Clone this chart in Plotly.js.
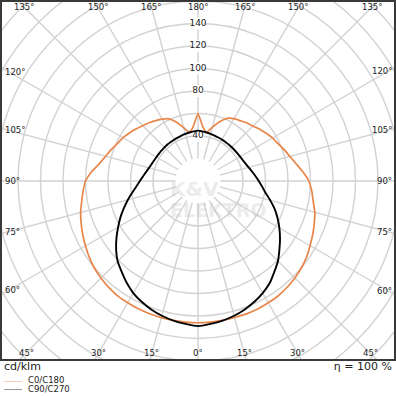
<!DOCTYPE html>
<html>
<head>
<meta charset="utf-8">
<script src="https://cdn.plot.ly/plotly-3.0.1.min.js"></script>
<style>
  html, body { margin:0; padding:0; background:#fff; width:396px; height:396px; overflow:hidden; font-family:"DejaVu Sans", sans-serif; }
  #frame { position:absolute; left:0; top:0; width:396px; height:361px; overflow:hidden; background:#fff; }
  #plot { position:absolute; left:-72px; top:-89px; width:540px; height:540px; }
  #border { position:absolute; left:0; top:0; width:396px; height:361px; box-sizing:border-box; border:2px solid #3a3a3a; pointer-events:none; }
  .txt { position:absolute; color:#222; white-space:nowrap; }
</style>
</head>
<body>
<div id="frame"><div id="plot"></div></div>
<div id="border"></div>
<div class="txt" id="unit" style="left:4px; top:360px; font-size:11px;">cd/klm</div>
<div class="txt" id="eta" style="right:4px; top:360px; font-size:11px;">η = 100 %</div>
<div style="position:absolute; left:4px; top:381px; width:18px; height:1px; background:#f6cdb9;"></div>
<div class="txt" style="left:28px; top:375px; font-size:8.5px;">C0/C180</div>
<div style="position:absolute; left:4px; top:389px; width:18px; height:1px; background:#9a9a9a;"></div>
<div class="txt" style="left:28px; top:383.5px; font-size:8.5px;">C90/C270</div>
<script>
// ---- data (cd/klm) ----
const gamma = [0,5,10,15,20,25,30,35,40,45,50,55,60,65,70,75,80,85,90,95,100,105,110,115,120,125,130,135,140,145,150,155,160,165,170,175,180];
const c0   = [126,126,125.8,125.6,125.7,125.5,125,124.5,123.3,121.8,120,117.8,115,112.5,110,107.5,104,101.5,98.5,93.5,88.5,84.5,81.5,78.5,76.5,74,71.5,69,67.5,65.5,64,61.5,56,49.5,44,48.5,60];
const c180 = [126,126,125.8,125.7,125.6,125.4,125,124.6,123.5,122,120.3,118,115.5,113,110.5,108,105,102.5,100,95,89,85,82,79,77,74.5,72,69.5,67.5,65.5,63.5,61,55.5,49,44,48.5,60];
const c90  = [129,127.5,126,124,121.5,118.5,115,111,105.5,100.5,94.5,89,83.5,78,72.5,66.5,61,57.2,54,51.2,48.7,46.6,45,43.9,43.2,42.8,42.5,42.4,42.4,42.4,42.5,42.7,43,43.4,43.8,44.3,44.8];
const c270 = [129,127.5,126,124,121.5,118.5,115,110.5,105.5,101,95,88.5,82,76,70,64.5,59.3,55,51.7,49,46.8,45.1,43.9,43.1,42.6,42.3,42.2,42.2,42.3,42.3,42.4,42.6,43,43.4,43.8,44.3,44.8];
const radialTicks = [40,80,100,120,140];
const angleTicks = [0,15,30,45,60,75,90,105,120,135,150,165,180];
const seriesNames = ['C0/C180','C90/C270'];

// ---- geometry of the view ----
const FIG = 540, OFFX = 72, OFFY = 89;   // figure larger than frame, centred at (198,181)
const CX = 198, CY = 181;
const BOX = {l:9, r:388, t:7, b:353};

function fullCurve(right, left){
  const th = [], rr = [];
  for (let i = gamma.length-1; i >= 0; i--) { th.push(-gamma[i]); rr.push(left[i]); }
  for (let i = 1; i < gamma.length; i++) { th.push(gamma[i]); rr.push(right[i]); }
  return {th, rr};
}
const orange = fullCurve(c0, c180);
const black = fullCurve(c90, c270);

const traces = [
  {type:'scatterpolar', mode:'markers', r:radialTicks, theta:radialTicks.map(()=>180),
   marker:{symbol:'square', size:12, color:'#fff'}, hoverinfo:'skip', showlegend:false},
  {type:'scatterpolar', mode:'text', r:radialTicks, theta:radialTicks.map(()=>180),
   text:radialTicks.map(String), textposition:'middle center',
   textfont:{family:'DejaVu Sans', size:9, color:'#222'}, hoverinfo:'skip', showlegend:false},
  {type:'scatterpolar', mode:'lines', name:seriesNames[0], r:orange.rr, theta:orange.th,
   line:{color:'#e8864a', width:1.7, shape:'spline', smoothing:0.45}, showlegend:false},
  {type:'scatterpolar', mode:'lines', name:seriesNames[1], r:black.rr, theta:black.th,
   line:{color:'#000', width:1.9, shape:'spline', smoothing:0.45}, showlegend:false}
];

// angular labels along the frame edge
function toPaper(px, py){ return {x:(px+OFFX)/FIG, y:1-(py+OFFY)/FIG}; }
const annotations = [];
angleTicks.forEach(g => {
  const sides = (g === 0 || g === 180) ? [1] : [1,-1];
  sides.forEach(s => {
    const a = g*Math.PI/180;
    const dx = s*Math.sin(a), dy = Math.cos(a);
    let t = Infinity, edge = 'tb';
    if (dx > 1e-9 && (BOX.r-CX)/dx < t) { t = (BOX.r-CX)/dx; edge = 'r'; }
    if (dx < -1e-9 && (BOX.l-CX)/dx < t) { t = (BOX.l-CX)/dx; edge = 'l'; }
    if (dy > 1e-9 && (BOX.b-CY)/dy < t) { t = (BOX.b-CY)/dy; edge = 'tb'; }
    if (dy < -1e-9 && (BOX.t-CY)/dy < t) { t = (BOX.t-CY)/dy; edge = 'tb'; }
    let px = CX+dx*t, anchor = 'center';
    if (edge === 'l') { px = 2.5; anchor = 'left'; }
    if (edge === 'r') { px = 393.5; anchor = 'right'; }
    const p = toPaper(px, CY+dy*t);
    annotations.push({x:p.x, y:p.y, xref:'paper', yref:'paper', text:g+'°', showarrow:false,
      xanchor:anchor, yanchor:'middle', font:{family:'DejaVu Sans', size:8.5, color:'#222'}});
  });
});
// faint watermark
const w1 = toPaper(194, 189), w2 = toPaper(218, 210);
annotations.push({x:w1.x, y:w1.y, xref:'paper', yref:'paper', text:'<b>K&amp;V</b>', showarrow:false,
  font:{family:'DejaVu Sans', size:20, color:'rgba(190,190,190,0.3)'}});
annotations.push({x:w2.x, y:w2.y, xref:'paper', yref:'paper', text:'<b>ELEKTRO</b>', showarrow:false,
  font:{family:'DejaVu Sans', size:19, color:'rgba(190,190,190,0.3)'}});

const layout = {
  width:FIG, height:FIG, margin:{l:0,r:0,t:0,b:0}, showlegend:false,
  paper_bgcolor:'rgba(0,0,0,0)',
  polar:{
    domain:{x:[0,1], y:[0,1]}, hole:22.5/270, bgcolor:'#fff',
    radialaxis:{range:[20,240], tick0:20, dtick:20, showticklabels:false, ticks:'', showline:false,
      gridcolor:'#d2d2d2', gridwidth:1.4},
    angularaxis:{rotation:-90, direction:'counterclockwise', dtick:15, showticklabels:false, ticks:'',
      showline:false, gridcolor:'#d2d2d2', gridwidth:1.4}
  },
  annotations
};
Plotly.newPlot('plot', traces, layout, {staticPlot:true, displayModeBar:false});
</script>
</body>
</html>
